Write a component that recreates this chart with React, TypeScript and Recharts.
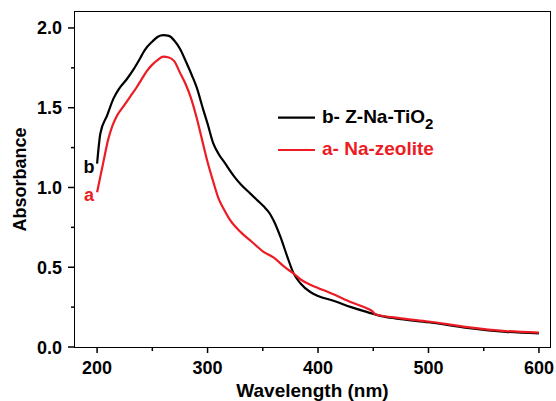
import React from 'react';
import { LineChart, Line, XAxis, YAxis, ReferenceDot, Legend } from 'recharts';

const wavelengthB = [200,203,209,215,220,227,233,239,243,250,255,260,265,270,275,281,286,290,296,300,305,310,315,324,330,339,345,351,356,360,366,372,378,384,393,400,414,430,444,460,475,500,535,570,600];
const absorbanceB = [1.15,1.34,1.45,1.56,1.62,1.68,1.74,1.81,1.86,1.915,1.945,1.955,1.95,1.92,1.87,1.78,1.70,1.63,1.49,1.40,1.28,1.21,1.16,1.07,1.02,0.96,0.92,0.88,0.84,0.79,0.69,0.57,0.46,0.40,0.345,0.32,0.29,0.25,0.22,0.19,0.175,0.155,0.12,0.095,0.085];

const wavelengthA = [200,203,206,210,214,218,224,230,236,240,245,250,255,260,265,270,275,280,285,290,295,300,305,310,315,320,330,340,350,360,370,378,385,393,400,414,430,445,449,452,475,500,535,570,600];
const absorbanceA = [0.97,1.07,1.17,1.30,1.39,1.45,1.51,1.57,1.63,1.675,1.73,1.77,1.80,1.82,1.815,1.79,1.72,1.65,1.56,1.44,1.30,1.16,1.04,0.93,0.86,0.80,0.72,0.66,0.60,0.56,0.50,0.46,0.42,0.39,0.37,0.33,0.28,0.24,0.225,0.205,0.18,0.16,0.125,0.10,0.09];

const xTicks = [200,250,300,350,400,450,500,550,600];
const xMajor = [200,300,400,500,600];
const yTicks = [0,0.25,0.5,0.75,1.0,1.25,1.5,1.75,2.0];
const yMajor = [0,0.5,1.0,1.5,2.0];

const seriesBName = 'b- Z-Na-TiO';
const seriesAName = 'a- Na-zeolite';

const RED = '#ED1C24';
const FONT = '"Liberation Sans", Arial, sans-serif';
const X_DOMAIN: [number, number] = [180, 610];
const Y_DOMAIN: [number, number] = [0, 2.1];

const dataB = wavelengthB.map((x, i) => ({ x, y: absorbanceB[i] }));
const dataA = wavelengthA.map((x, i) => ({ x, y: absorbanceA[i] }));

// chart layout
const W = 556;
const H = 401;
const MARGIN = { top: 12, right: 6, left: 0, bottom: 0 };
const Y_AXIS_W = 75;
const X_AXIS_H = 54;
const FRAME_W = 1.8;

const XTick = (props: any) => {
  const { x, y, payload } = props;
  const major = xMajor.includes(payload.value);
  return (
    <g>
      <line x1={x} x2={x} y1={y} y2={y + (major ? 6 : 4)} stroke="#000" strokeWidth={1.5} />
      {major && (
        <text x={x} y={y + 26.5} textAnchor="middle" fontFamily={FONT} fontWeight="bold" fontSize={18} fill="#000">
          {payload.value}
        </text>
      )}
    </g>
  );
};

const YTick = (props: any) => {
  const { x, y, payload } = props;
  const major = yMajor.some((v) => Math.abs(v - payload.value) < 1e-6);
  return (
    <g>
      <line x1={x} x2={x - (major ? 7 : 4)} y1={y} y2={y} stroke="#000" strokeWidth={1.5} />
      {major && (
        <text x={x - 13} y={y + 6.5} textAnchor="end" fontFamily={FONT} fontWeight="bold" fontSize={18} fill="#000">
          {Number(payload.value).toFixed(1)}
        </text>
      )}
    </g>
  );
};

const renderLegend = () => (
  <svg width={220} height={70} style={{ overflow: 'visible' }}>
    <line x1={10} x2={47} y1={19.7} y2={19.7} stroke="#000" strokeWidth={2.2} />
    <text x={54} y={25.3} fontFamily={FONT} fontWeight="bold" fontSize={19} fill="#000">
      {seriesBName}
      <tspan fontSize={15} dy={6}>2</tspan>
    </text>
    <line x1={10} x2={47} y1={52} y2={52} stroke={RED} strokeWidth={2.2} />
    <text x={54} y={57.3} fontFamily={FONT} fontWeight="bold" fontSize={19} fill={RED}>
      {seriesAName}
    </text>
  </svg>
);

const curveLabel = (text: string, color: string, dy: number) => (props: any) => {
  const vb = props.viewBox || {};
  const cx = vb.x + (vb.width || 0) / 2;
  const cy = vb.y + (vb.height || 0) / 2;
  return (
    <text x={cx - 8} y={cy + dy} textAnchor="middle" fontFamily={FONT} fontWeight="bold" fontSize={18} fill={color}>
      {text}
    </text>
  );
};

export default function App() {
  const plotLeft = MARGIN.left + Y_AXIS_W;
  const plotTop = MARGIN.top;
  const plotW = W - MARGIN.right - plotLeft;
  const plotH = H - MARGIN.bottom - X_AXIS_H - plotTop;
  return (
    <div style={{ position: 'absolute', left: 0, top: 0, width: W, height: H }}>
      <LineChart width={W} height={H} margin={MARGIN}>
        <XAxis
          type="number"
          dataKey="x"
          domain={X_DOMAIN}
          ticks={xTicks}
          interval={0}
          allowDataOverflow
          axisLine={false}
          tickLine={false}
          tickSize={0}
          tickMargin={0}
          tick={<XTick />}
          height={X_AXIS_H}
          label={{
            content: (p: any) => {
              const vb = p.viewBox;
              return (
                <text x={vb.x + vb.width / 2} y={vb.y + 49.5} textAnchor="middle" fontFamily={FONT} fontWeight="bold" fontSize={19} fill="#000">
                  Wavelength (nm)
                </text>
              );
            },
          }}
        />
        <YAxis
          type="number"
          domain={Y_DOMAIN}
          ticks={yTicks}
          interval={0}
          allowDataOverflow
          axisLine={false}
          tickLine={false}
          tickSize={0}
          tickMargin={0}
          tick={<YTick />}
          width={Y_AXIS_W}
          label={{
            content: (p: any) => {
              const vb = p.viewBox;
              const cx = vb.x + 20;
              const cy = vb.y + vb.height / 2;
              return (
                <text x={cx} y={cy} transform={`rotate(-90 ${cx} ${cy})`} textAnchor="middle" dominantBaseline="central" fontFamily={FONT} fontWeight="bold" fontSize={18} fill="#000">
                  Absorbance
                </text>
              );
            },
          }}
        />
        <Line data={dataB} dataKey="y" type="monotone" stroke="#000" strokeWidth={2.2} dot={false} isAnimationActive={false} name="b" />
        <Line data={dataA} dataKey="y" type="monotone" stroke={RED} strokeWidth={2.2} dot={false} isAnimationActive={false} name="a" />
        <ReferenceDot x={dataB[0].x} y={dataB[0].y} r={0} ifOverflow="visible" label={{ content: curveLabel('b', '#000', 9) }} />
        <ReferenceDot x={dataA[0].x} y={dataA[0].y} r={0} ifOverflow="visible" label={{ content: curveLabel('a', RED, 9) }} />
        <Legend
          layout="horizontal"
          verticalAlign="middle"
          align="center"
          content={renderLegend}
          wrapperStyle={{ left: 268, top: 98, width: 220, height: 70 }}
        />
      </LineChart>
      <div
        style={{
          position: 'absolute',
          left: plotLeft - FRAME_W / 2,
          top: plotTop - FRAME_W / 2,
          width: plotW + FRAME_W,
          height: plotH + FRAME_W,
          boxSizing: 'border-box',
          border: `${FRAME_W}px solid #000`,
          pointerEvents: 'none',
        }}
      />
    </div>
  );
}
